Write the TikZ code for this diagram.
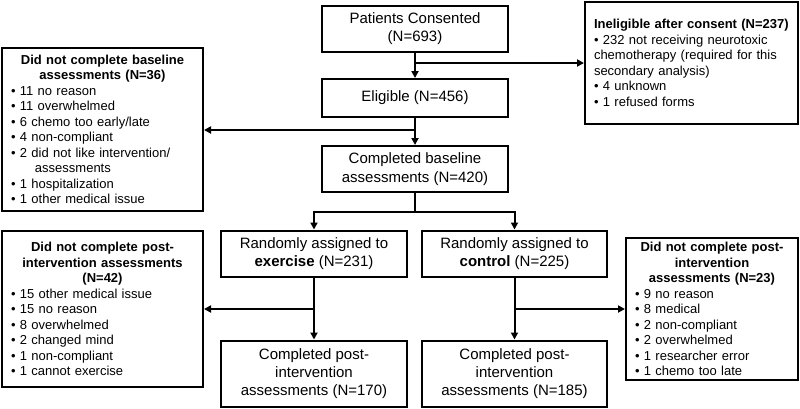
\documentclass[tikz,border=0pt]{standalone}
\usepackage{fontspec}
\setmainfont{Liberation Sans}
\usetikzlibrary{arrows.meta}
\tikzset{
  box/.style={draw=black, line width=2pt, fill=white, inner sep=0pt, align=center,
    font=\fontsize{15}{18.3}\selectfont},
  sidebox/.style={draw=black, line width=2pt, fill=white, inner xsep=9pt, inner ysep=0pt,
    font=\fontsize{13}{15.5}\selectfont},
  arr/.style={line width=2pt, -{Triangle[length=7pt,width=7pt]}},
  ln/.style={line width=2pt}
}
\begin{document}
\begin{tikzpicture}[x=1pt,y=-1pt]
\useasboundingbox (0,0) rectangle (800,408);
% main column
\node[box, minimum width=186pt, minimum height=46pt] (cons) at (415,28.5) {Patients Consented\\(N=693)};
\node[box, minimum width=186pt, minimum height=38pt] (elig) at (415,98) {Eligible (N=456)};
\node[box, minimum width=186pt, minimum height=46pt] (base) at (415,169) {Completed baseline\\assessments (N=420)};
\node[box, minimum width=186pt, minimum height=46pt] (exer) at (314,253.5) {Randomly assigned to\\\textbf{exercise} (N=231)};
\node[box, minimum width=185pt, minimum height=46pt] (ctrl) at (514.5,253.5) {Randomly assigned to\\\textbf{control} (N=225)};
\node[box, minimum width=186pt, minimum height=66pt] (cex) at (314,373.5) {Completed post-\\intervention\\assessments (N=170)};
\node[box, minimum width=185pt, minimum height=66pt] (cctrl) at (514.5,373.5) {Completed post-\\intervention\\assessments (N=185)};
% side boxes
\node[sidebox, minimum width=213pt, minimum height=122pt, text width=195pt, align=left] (inel) at (691.5,63)
 {\textbf{Ineligible after consent (N=237)}\\
 • 232 not receiving neurotoxic\\
 chemotherapy (required for this\\
 secondary analysis)\\
 • 4 unknown\\
 • 1 refused forms};
\node[sidebox, minimum width=201pt, minimum height=163pt, text width=183pt] (nobase) at (102.5,129.5)
 {\centering\bfseries Did not complete baseline\\assessments (N=36)\par
 \raggedright\mdseries
 • 11 no reason\\
 • 11 overwhelmed\\
 • 6 chemo too early/late\\
 • 4 non-compliant\\
 • 2 did not like intervention/\\
 \hspace*{24pt}assessments\\
 • 1 hospitalization\\
 • 1 other medical issue};
\node[sidebox, minimum width=201pt, minimum height=156pt, text width=183pt] (nopost1) at (102.5,309)
 {\centering\bfseries Did not complete post-\\intervention assessments\\(N=42)\par
 \raggedright\mdseries
 • 15 other medical issue\\
 • 15 no reason\\
 • 8 overwhelmed\\
 • 2 changed mind\\
 • 1 non-compliant\\
 • 1 cannot exercise};
\node[sidebox, minimum width=172pt, minimum height=142pt, text width=154pt] (nopost2) at (712,309)
 {\centering\bfseries Did not complete post-\\intervention\\assessments (N=23)\par
 \raggedright\mdseries
 • 9 no reason\\
 • 8 medical\\
 • 2 non-compliant\\
 • 2 overwhelmed\\
 • 1 researcher error\\
 • 1 chemo too late};
% branch points
\coordinate (b1) at (415,63);
\coordinate (b2) at (415,130);
\coordinate (split) at (415,212);
\coordinate (b3) at (314,309);
\coordinate (b4) at (514.5,309);
% connectors
\draw[arr] (cons.south) -- (elig.north);
\draw[arr] (b1) -- (b1 -| inel.west);
\draw[arr] (elig.south) -- (base.north);
\draw[arr] (b2) -- (b2 -| nobase.east);
\draw[ln] (base.south) -- (split);
\draw[arr] (split) -| (exer.north);
\draw[arr] (split) -| (ctrl.north);
\draw[arr] (exer.south) -- (cex.north);
\draw[arr] (b3) -- (b3 -| nopost1.east);
\draw[arr] (ctrl.south) -- (cctrl.north);
\draw[arr] (b4) -- (b4 -| nopost2.west);
\end{tikzpicture}
\end{document}
